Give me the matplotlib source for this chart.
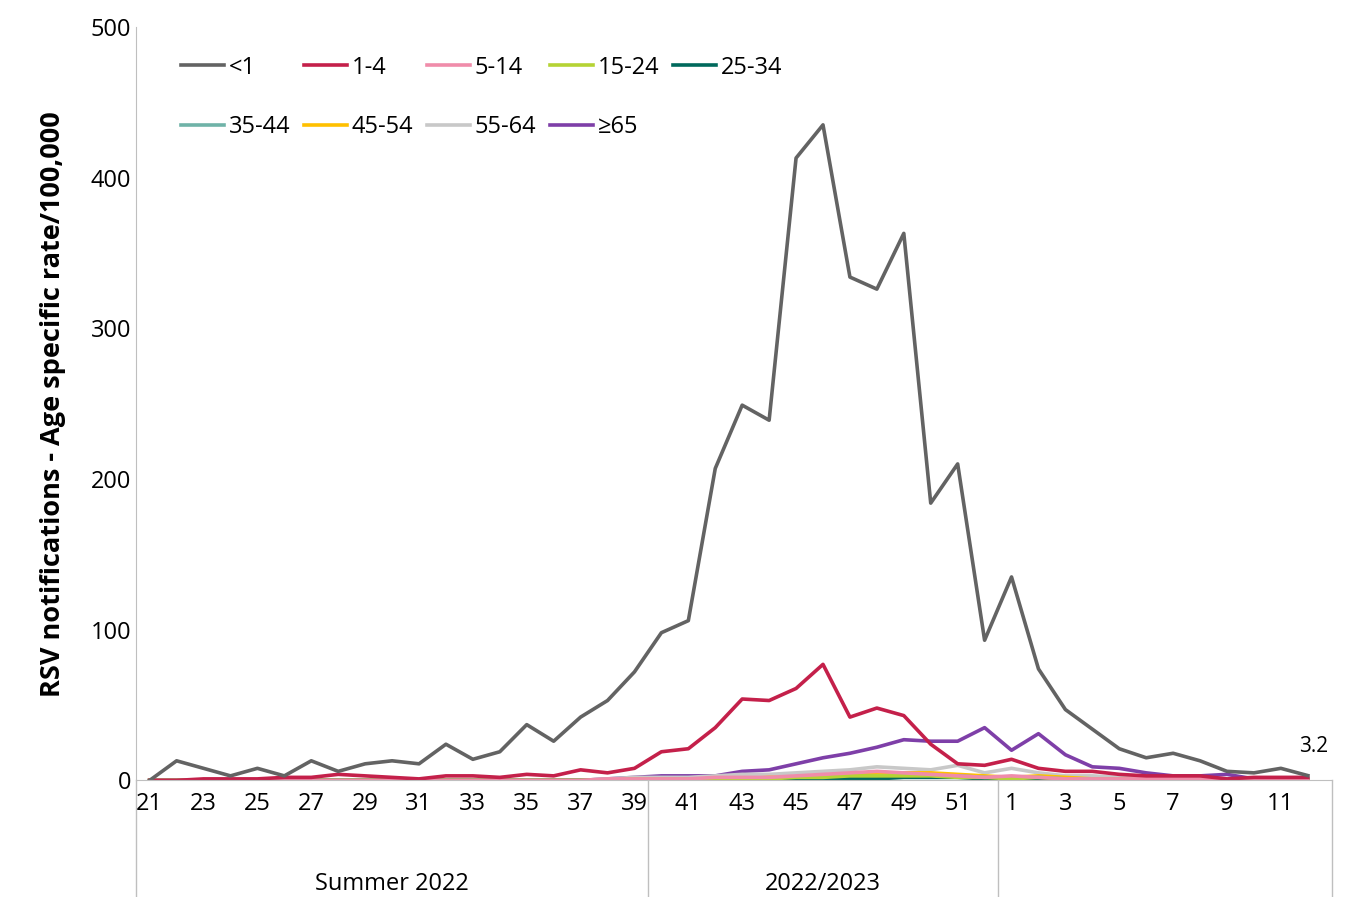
import matplotlib
matplotlib.use("Agg")
import matplotlib.pyplot as plt
import numpy as np
plt.rcParams['font.family'] = ['Open Sans', 'DejaVu Sans']

weeks = list(range(21, 53)) + list(range(1, 13))
lt1 = [0,13,8,3,8,3,13,6,11,13,11,24,14,19,37,26,42,53,72,98,106,207,249,239,413,435,334,326,363,184,210,93,135,74,47,34,21,15,18,13,6,5,8,3.2]
a1_4 = [0,0,1,1,1,2,2,4,3,2,1,3,3,2,4,3,7,5,8,19,21,35,54,53,61,77,42,48,43,24,11,10,14,8,6,6,4,3,3,3,1,2,2,2]
a5_14 = [0,0,0,0,0,0,0,0,0,0,0,0,0,0,0,0,0,1,1,1,1,2,2,2,3,4,5,6,5,4,3,2,3,2,1,1,1,1,1,1,0,0,0,0]
a15_24 = [0]*17+[0,1,1,1,1,1,1,2,2,3,3,3,3,2,2,1,2,1,1,1,0,0,0,0,0,0,0]
a25_34 = [0]*17+[0,0,0,0,1,1,1,1,1,1,1,2,2,2,1,1,1,1,0,0,0,0,0,0,0,0,0]
a35_44 = [0]*17+[0,0,1,1,1,1,1,2,2,2,2,3,3,3,2,1,2,1,1,0,0,0,0,0,0,0,0]
a45_54 = [0]*17+[0,1,1,1,1,1,2,2,3,4,5,5,5,4,3,2,3,2,1,1,0,0,0,0,0,0,0]
a55_64 = [0,0,0,0,0,0,0,0,0,0,0,0,0,0,0,0,0,1,2,2,2,3,4,4,5,6,7,9,8,7,10,5,8,5,3,3,2,2,1,1,0,0,0,0]
a65 = [0,0,0,0,0,0,0,0,0,0,0,0,0,0,0,0,0,1,2,3,3,3,6,7,11,15,18,22,27,26,26,35,20,31,17,9,8,5,3,3,4,1,1,1]

series = [("<1", lt1, "#636363"), ("1-4", a1_4, "#C4204A"), ("5-14", a5_14, "#F08CAA"),
          ("15-24", a15_24, "#B5D334"), ("25-34", a25_34, "#00695C"), ("35-44", a35_44, "#6FB3A8"),
          ("45-54", a45_54, "#FFC000"), ("55-64", a55_64, "#C8C8C8"), ("≥65", a65, "#7E3FA8")]

fig = plt.figure(figsize=(13.62, 8.97), dpi=100)
ax = fig.add_axes([0.1, 0.13, 0.878, 0.84])
x = np.arange(len(weeks))
handles = {}
for name, v, c in series[::-1]:
    handles[name], = ax.plot(x, v, color=c, lw=2.6, label=name)
ax.text(x[-1]+0.2, lt1[-1]+12, "3.2", fontsize=15, ha="center", va="bottom")
order = ["<1", "35-44", "1-4", "45-54", "5-14", "55-64", "15-24", "≥65", "25-34"]
ax.legend([handles[n] for n in order], order, ncol=5, loc="upper left", bbox_to_anchor=(0.02, 0.99), frameon=False,
          fontsize=17, handlelength=1.8, handletextpad=0.2, columnspacing=0.6, labelspacing=1.5)
ax.set_xlim(-0.5, len(weeks)-0.1)
ax.set_ylim(0, 500)
ax.set_yticks(range(0, 501, 100))
ax.tick_params(axis='y', labelsize=17, length=0)
ax.set_xticks(x[::2])
ax.set_xticklabels([str(w) for w in weeks[::2]], fontsize=17)
ax.tick_params(axis='x', length=0, pad=8)
for s in ["top", "right"]:
    ax.spines[s].set_visible(False)
ax.spines["left"].set_color("#BFBFBF")
ax.spines["bottom"].set_color("#BFBFBF")
ax.set_ylabel("RSV notifications - Age specific rate/100,000", fontsize=19.5, fontweight="bold", labelpad=18)
for b in [-0.5, 18.5, 31.5, len(weeks)-0.1]:
    ax.plot([b, b], [0, -0.155], transform=ax.get_xaxis_transform(), color="#BFBFBF", lw=1, clip_on=False)
ax.text(9, -0.145, "Summer 2022", transform=ax.get_xaxis_transform(), ha="center", fontsize=17)
ax.text(25, -0.145, "2022/2023", transform=ax.get_xaxis_transform(), ha="center", fontsize=17)
fig.savefig("out.png")
